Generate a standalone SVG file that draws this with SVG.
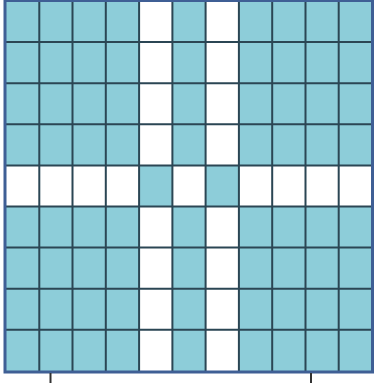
<svg xmlns="http://www.w3.org/2000/svg" width="374" height="383" viewBox="0 0 374 383">
<style>
.b{fill:#8dcdd9}
.w{fill:#ffffff}
.g{stroke:#2b4654;stroke-width:2;fill:none}
.o{stroke:#3f5f95;stroke-width:3;fill:none}
.t{stroke:#333;stroke-width:2}
</style>
<rect x="0" y="0" width="374" height="383" fill="#ffffff"/>
<g id="fill">
<rect class="b" x="6" y="1" width="366" height="370"/>
<!-- white columns 4 and 6 -->
<rect class="w" x="139.1" y="1" width="33.3" height="370"/>
<rect class="w" x="205.6" y="1" width="33.3" height="370"/>
<!-- white center row -->
<rect class="w" x="6" y="165.4" width="366" height="41.1"/>
<!-- blue cells in center row -->
<rect class="b" x="139.1" y="165.4" width="33.3" height="41.1"/>
<rect class="b" x="205.6" y="165.4" width="33.3" height="41.1"/>
</g>
<g id="grid" class="g">
<path d="M39.3 1V371M72.5 1V371M105.8 1V371M139.1 1V371M172.4 1V371M205.6 1V371M238.9 1V371M272.2 1V371M305.5 1V371M338.7 1V371"/>
<path d="M6 42.1H372M6 83.2H372M6 124.3H372M6 165.4H372M6 206.5H372M6 247.6H372M6 288.7H372M6 329.8H372"/>
</g>
<rect class="o" x="5" y="0.5" width="367.5" height="371.5"/>
<g id="ticks">
<line class="t" x1="50.5" y1="373" x2="50.5" y2="383"/>
<line class="t" x1="311" y1="373" x2="311" y2="383"/>
</g>
</svg>
